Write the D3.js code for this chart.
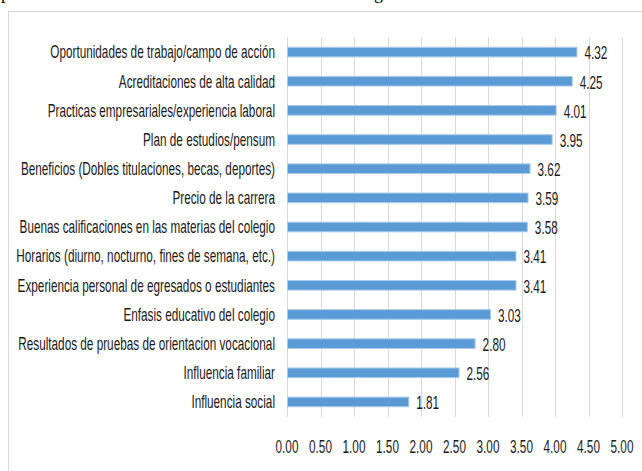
<!DOCTYPE html>
<html><head><meta charset="utf-8">
<script src="https://cdn.jsdelivr.net/npm/d3@7"></script>
<style>html,body{margin:0;padding:0;background:#fff;}</style>
</head><body>
<script>
const categories = [
  "Oportunidades de trabajo/campo de acción",
  "Acreditaciones de alta calidad",
  "Practicas empresariales/experiencia laboral",
  "Plan de estudios/pensum",
  "Beneficios (Dobles titulaciones, becas, deportes)",
  "Precio de la carrera",
  "Buenas calificaciones en las materias del colegio",
  "Horarios (diurno, nocturno, fines de semana, etc.)",
  "Experiencia personal de egresados o estudiantes",
  "Enfasis educativo del colegio",
  "Resultados de pruebas de orientacion vocacional",
  "Influencia familiar",
  "Influencia social"
];
const values = [4.32, 4.25, 4.01, 3.95, 3.62, 3.59, 3.58, 3.41, 3.41, 3.03, 2.80, 2.56, 1.81];
const tickValues = [0, 0.5, 1, 1.5, 2, 2.5, 3, 3.5, 4, 4.5, 5];

const W = 642, H = 471;
const FONT = "'Liberation Sans', Arial, sans-serif";
const FS = 18;
const svg = d3.select("body").append("svg").attr("width", W).attr("height", H);

// cut-off caption fragments above chart
svg.append("text").attr("x", 1).attr("y", -1).attr("font-family", "'Liberation Serif', serif").attr("font-size", 18).attr("fill", "#000").text("p");
svg.append("text").attr("x", 374).attr("y", -1).attr("font-family", "'Liberation Serif', serif").attr("font-size", 18).attr("fill", "#000").text("g");

// outer frame
svg.append("rect").attr("x", 8.5).attr("y", 11.5).attr("width", 700).attr("height", 500)
  .attr("fill", "none").attr("stroke", "#d9d9d9").attr("stroke-width", 1);

const x = d3.scaleLinear().domain([0, 5]).range([287, 622]);
const y = d3.scaleBand().domain(categories).range([37.5, 416.5]).paddingInner(0.67).paddingOuter(0.335);

// measure squash factor
const probe = svg.append("text").attr("font-family", FONT).attr("font-size", FS).text(categories[0]);
const natural = probe.node().getComputedTextLength();
probe.remove();
const k = 225 / natural;

// gridlines
svg.append("g").selectAll("line").data(tickValues).join("line")
  .attr("x1", d => Math.round(x(d)) + 0.5).attr("x2", d => Math.round(x(d)) + 0.5)
  .attr("y1", 37.5).attr("y2", 417)
  .attr("stroke", "#d9d9d9").attr("stroke-width", 1);

// bars
svg.append("g").selectAll("rect").data(values).join("rect")
  .attr("x", x(0) + 0.5)
  .attr("y", (d, i) => y(categories[i]))
  .attr("width", d => x(d) - x(0))
  .attr("height", y.bandwidth())
  .attr("fill", "#5b9bd5")
  .attr("stroke", "#a9cbea").attr("stroke-width", 1);

// bottom axis
const axisG = svg.append("g").attr("transform", "translate(0,440)")
  .call(d3.axisBottom(x).tickValues(tickValues).tickFormat(d3.format(".2f")).tickSize(0));
axisG.select(".domain").remove();
axisG.selectAll("text")
  .attr("font-family", FONT).attr("font-size", FS).attr("fill", "#1a1a1a")
  .attr("x", 0).attr("y", 0).attr("dy", "0.71em")
  .attr("transform", `scale(${k},1)`);
axisG.selectAll(".tick").attr("transform", d => `translate(${x(d)},0)`);

// category labels
svg.append("g").selectAll("text").data(categories).join("text")
  .attr("transform", d => `translate(275,${y(d) + y.bandwidth()/2}) scale(${k},1)`)
  .attr("text-anchor", "end").attr("dy", "0.35em")
  .attr("font-family", FONT).attr("font-size", FS).attr("fill", "#1a1a1a")
  .text(d => d);

// value labels
svg.append("g").selectAll("text").data(values).join("text")
  .attr("transform", (d, i) => `translate(${x(d) + 8},${y(categories[i]) + y.bandwidth()/2 + 1}) scale(${k},1)`)
  .attr("dy", "0.35em")
  .attr("font-family", FONT).attr("font-size", FS).attr("fill", "#1a1a1a")
  .text(d => d3.format(".2f")(d));
</script>
</body></html>
